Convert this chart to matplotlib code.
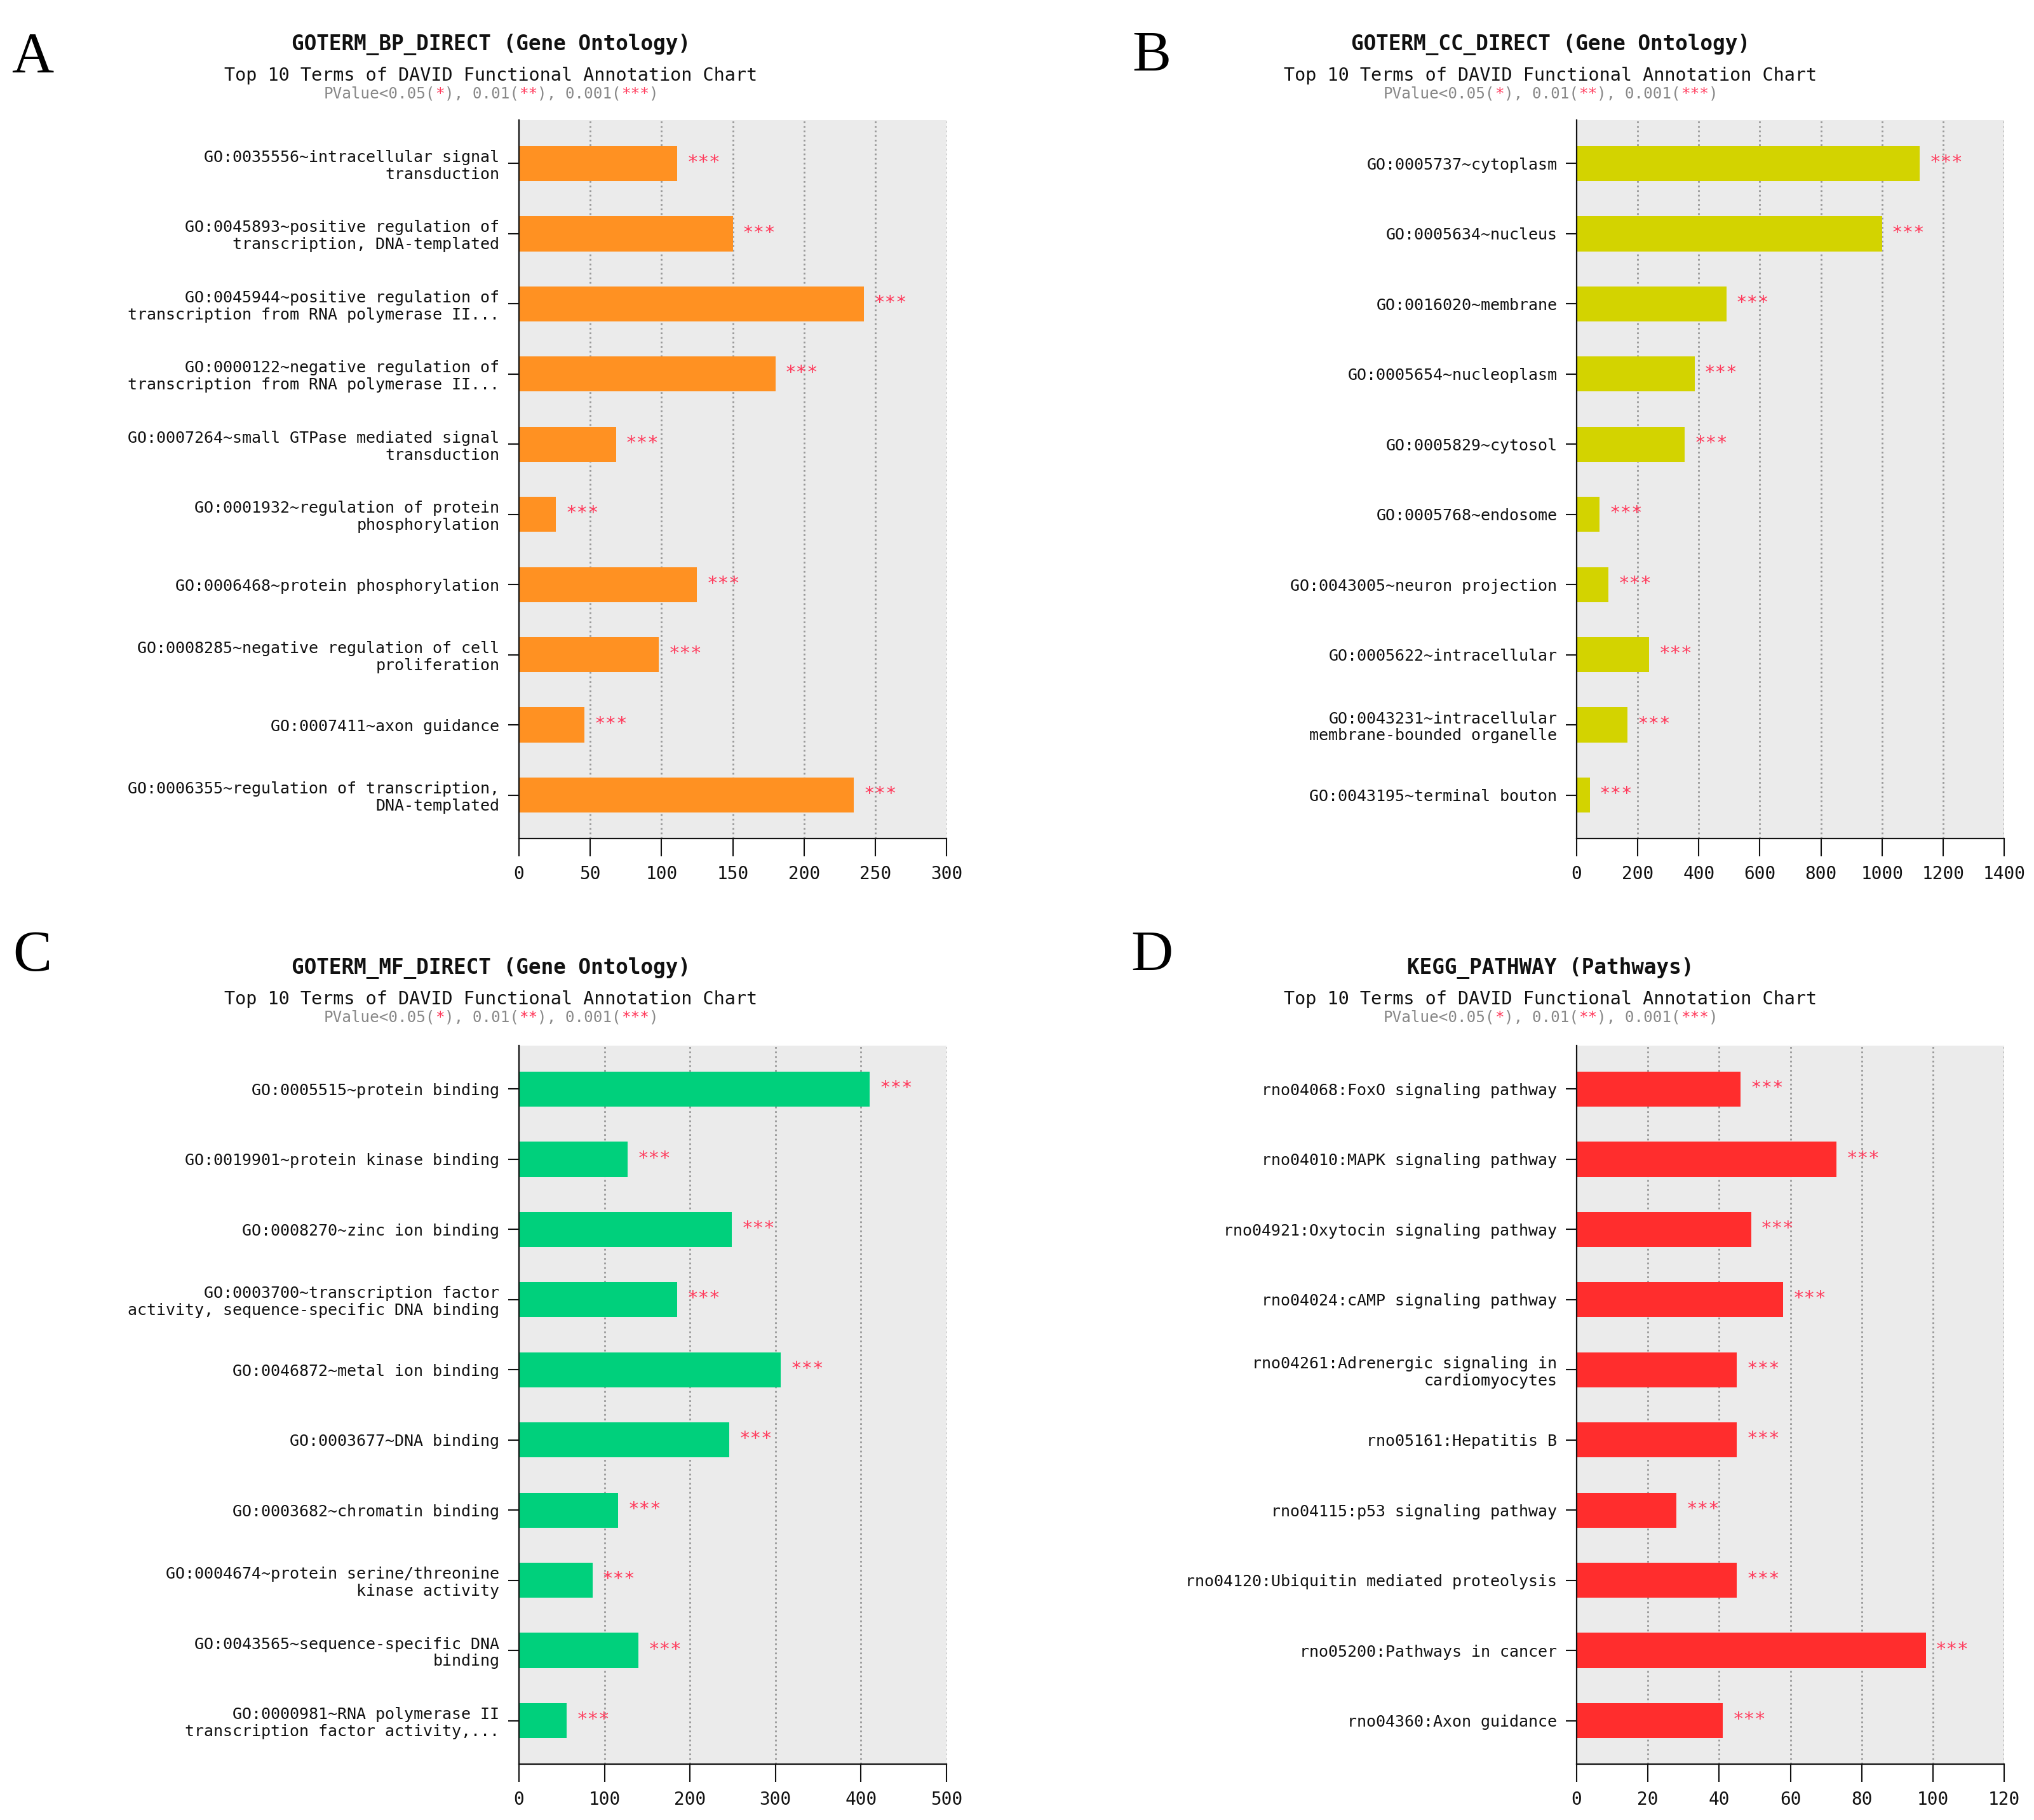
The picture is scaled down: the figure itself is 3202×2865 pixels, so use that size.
import matplotlib
matplotlib.use("Agg")
import matplotlib.pyplot as plt

# ---------------- data ----------------
bp_terms = [
    "GO:0035556~intracellular signal\ntransduction",
    "GO:0045893~positive regulation of\ntranscription, DNA-templated",
    "GO:0045944~positive regulation of\ntranscription from RNA polymerase II...",
    "GO:0000122~negative regulation of\ntranscription from RNA polymerase II...",
    "GO:0007264~small GTPase mediated signal\ntransduction",
    "GO:0001932~regulation of protein\nphosphorylation",
    "GO:0006468~protein phosphorylation",
    "GO:0008285~negative regulation of cell\nproliferation",
    "GO:0007411~axon guidance",
    "GO:0006355~regulation of transcription,\nDNA-templated",
]
bp_counts = [111, 150, 242, 180, 68, 26, 125, 98, 46, 235]

cc_terms = [
    "GO:0005737~cytoplasm",
    "GO:0005634~nucleus",
    "GO:0016020~membrane",
    "GO:0005654~nucleoplasm",
    "GO:0005829~cytosol",
    "GO:0005768~endosome",
    "GO:0043005~neuron projection",
    "GO:0005622~intracellular",
    "GO:0043231~intracellular\nmembrane-bounded organelle",
    "GO:0043195~terminal bouton",
]
cc_counts = [1124, 1000, 490, 386, 354, 75, 105, 237, 167, 43]

mf_terms = [
    "GO:0005515~protein binding",
    "GO:0019901~protein kinase binding",
    "GO:0008270~zinc ion binding",
    "GO:0003700~transcription factor\nactivity, sequence-specific DNA binding",
    "GO:0046872~metal ion binding",
    "GO:0003677~DNA binding",
    "GO:0003682~chromatin binding",
    "GO:0004674~protein serine/threonine\nkinase activity",
    "GO:0043565~sequence-specific DNA\nbinding",
    "GO:0000981~RNA polymerase II\ntranscription factor activity,...",
]
mf_counts = [410, 127, 249, 185, 306, 246, 116, 86, 140, 56]

kegg_terms = [
    "rno04068:FoxO signaling pathway",
    "rno04010:MAPK signaling pathway",
    "rno04921:Oxytocin signaling pathway",
    "rno04024:cAMP signaling pathway",
    "rno04261:Adrenergic signaling in\ncardiomyocytes",
    "rno05161:Hepatitis B",
    "rno04115:p53 signaling pathway",
    "rno04120:Ubiquitin mediated proteolysis",
    "rno05200:Pathways in cancer",
    "rno04360:Axon guidance",
]
kegg_counts = [46, 73, 49, 58, 45, 45, 28, 45, 98, 41]

significance = ["***"] * 10

titles = ["GOTERM_BP_DIRECT (Gene Ontology)", "GOTERM_CC_DIRECT (Gene Ontology)",
          "GOTERM_MF_DIRECT (Gene Ontology)", "KEGG_PATHWAY (Pathways)"]
subtitle = "Top 10 Terms of DAVID Functional Annotation Chart"
pvalue_line = "PValue<0.05(*), 0.01(**), 0.001(***)"
panel_letters = ["A", "B", "C", "D"]
xmax = [300, 1400, 500, 120]
xstep = [50, 200, 100, 20]

# ---------------- style ----------------
W, H, DPI = 3202, 2865, 100
MONO = "DejaVu Sans Mono"
colors = ["#FF9122", "#D3D300", "#00D07C", "#FF2D2D"]
star_color = "#FF3B5C"

fig = plt.figure(figsize=(W / DPI, H / DPI), dpi=DPI)

ax_left = [817 / W, 2482 / W, 817 / W, 2482 / W]
ax_bottom = [1 - 1320 / H, 1 - 1320 / H, 1 - 2777 / H, 1 - 2777 / H]
ax_w = 673 / W
ax_h = 1131 / H
title_cx = [773 / W, 2441 / W, 773 / W, 2441 / W]
title_y = [70, 70, 1524, 1524]
letter_pos = [(51, 92), (1813, 90), (51, 1506), (1813, 1506)]

all_terms = [bp_terms, cc_terms, mf_terms, kegg_terms]
all_counts = [bp_counts, cc_counts, mf_counts, kegg_counts]


def colored_mono_line(cx_frac, y_frac, s, fs, base_color, hl_char, hl_color):
    adv_px = 0.602 * fs * DPI / 72.0
    total = adv_px * len(s)
    x0 = cx_frac * W - total / 2.0
    runs = []
    start = 0
    for i in range(1, len(s) + 1):
        if i == len(s) or ((s[i] == hl_char) != (s[start] == hl_char)):
            runs.append((start, s[start:i]))
            start = i
    for idx, run in runs:
        col = hl_color if run[0] == hl_char else base_color
        fig.text((x0 + idx * adv_px) / W, y_frac, run, ha="left", va="center",
                 fontsize=fs, family=MONO, color=col)


for k in range(4):
    ax = fig.add_axes([ax_left[k], ax_bottom[k], ax_w, ax_h])
    terms = all_terms[k]
    counts = all_counts[k]
    ypos = list(range(len(terms)))
    ax.set_facecolor("#EBEBEB")
    ax.barh(ypos, counts, height=0.5, color=colors[k], zorder=3)
    ax.set_xlim(0, xmax[k])
    ax.set_ylim(len(terms) - 1 + 0.62, -0.62)
    ticks = list(range(0, xmax[k] + 1, xstep[k]))
    ax.set_xticks(ticks)
    ax.set_xticklabels([str(t) for t in ticks], family=MONO, fontsize=20)
    ax.set_yticks(ypos)
    ax.set_yticklabels(terms, family=MONO, fontsize=18, linespacing=1.15)
    for t in ticks[1:]:
        ax.axvline(t, color="#999999", linestyle=(0, (1.0, 1.6)), linewidth=2.0, zorder=1)
    for s in ["top", "right"]:
        ax.spines[s].set_visible(False)
    for s in ["left", "bottom"]:
        ax.spines[s].set_linewidth(1.6)
        ax.spines[s].set_color("#111111")
        ax.spines[s].set_zorder(5)
    ax.tick_params(axis="y", length=12, width=1.5, pad=10, colors="#111111")
    ax.tick_params(axis="x", length=20, width=1.5, pad=10, colors="#111111")
    for yy, v, sig in zip(ypos, counts, significance):
        ax.annotate(sig, (v, yy), xytext=(11, 1), textcoords="offset points",
                    ha="left", va="center", fontsize=21, family=MONO,
                    color=star_color, zorder=4)

    ty = title_y[k]
    fig.text(title_cx[k], 1 - ty / H, titles[k], ha="center", va="center",
             fontsize=23.5, family=MONO, fontweight="bold", color="#111111")
    fig.text(title_cx[k], 1 - (ty + 49) / H, subtitle, ha="center", va="center",
             fontsize=20.5, family=MONO, color="#111111")
    colored_mono_line(title_cx[k], 1 - (ty + 78) / H, pvalue_line, 17.5,
                      "#888888", "*", "#FF3B5C")
    lx, ly = letter_pos[k]
    fig.text(lx / W, 1 - ly / H, panel_letters[k], ha="center", va="center",
             fontsize=66, family="Liberation Serif", color="#000000")

fig.savefig("out.png", dpi=DPI, facecolor="white")
